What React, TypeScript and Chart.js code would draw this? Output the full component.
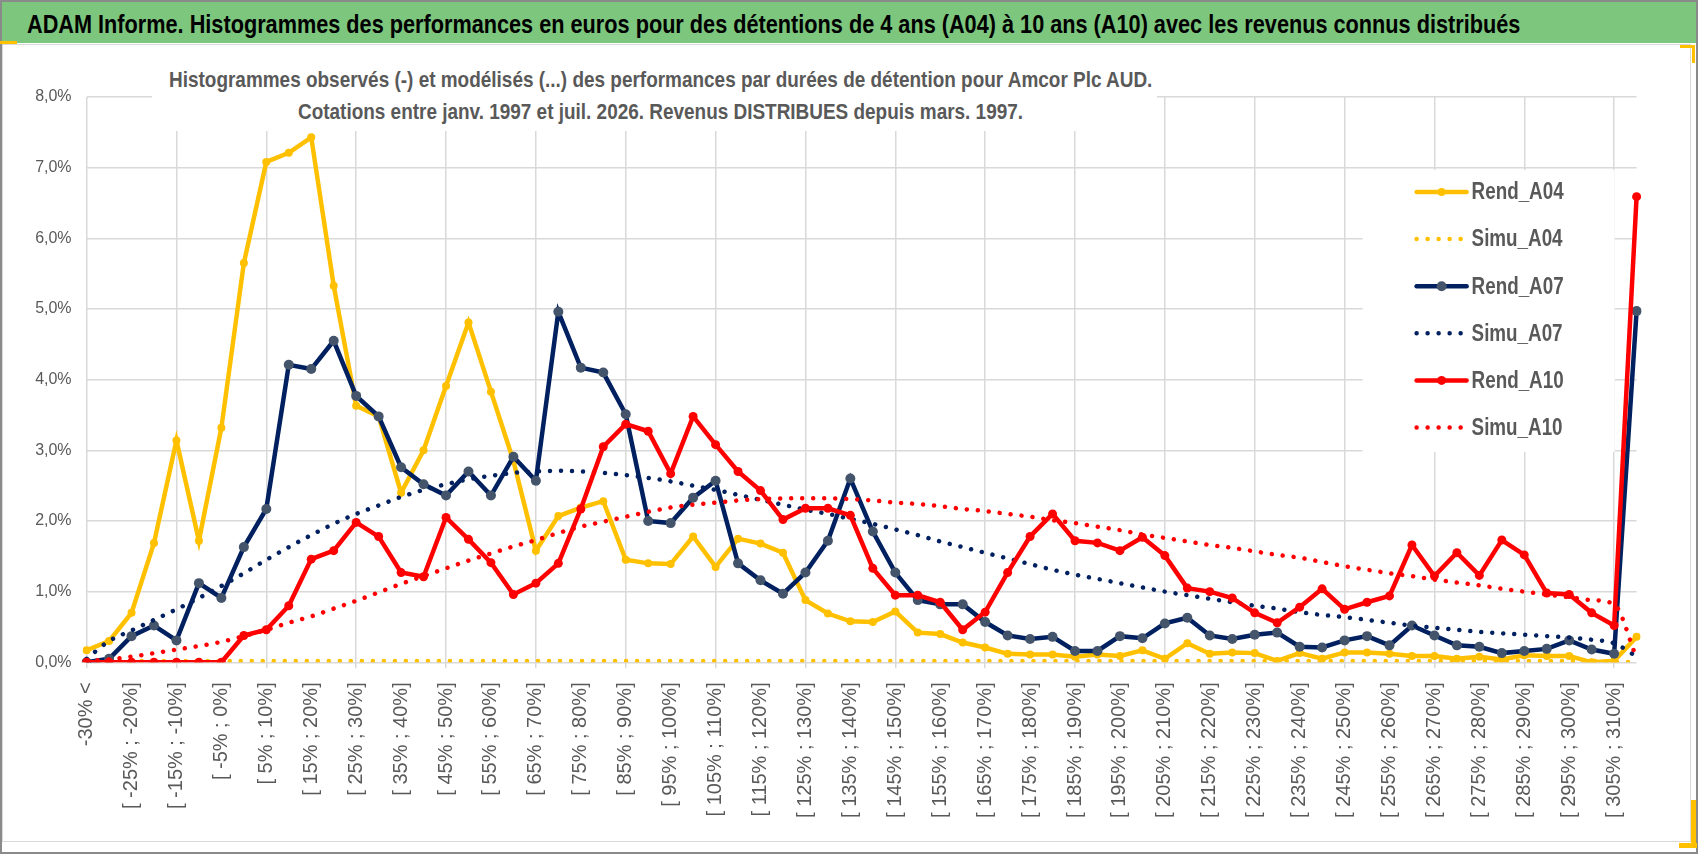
import { useEffect, useRef } from "react"
import { Chart, registerables } from "chart.js"

Chart.register(...registerables)

const categories = [
  "-30% <", "[ -30% ; -25%]", "[ -25% ; -20%]", "[ -20% ; -15%]", "[ -15% ; -10%]",
  "[ -10% ; -5%]", "[ -5% ; 0%]", "[ 0% ; 5%]", "[ 5% ; 10%]", "[ 10% ; 15%]",
  "[ 15% ; 20%]", "[ 20% ; 25%]", "[ 25% ; 30%]", "[ 30% ; 35%]", "[ 35% ; 40%]",
  "[ 40% ; 45%]", "[ 45% ; 50%]", "[ 50% ; 55%]", "[ 55% ; 60%]", "[ 60% ; 65%]",
  "[ 65% ; 70%]", "[ 70% ; 75%]", "[ 75% ; 80%]", "[ 80% ; 85%]", "[ 85% ; 90%]",
  "[ 90% ; 95%]", "[ 95% ; 100%]", "[ 100% ; 105%]", "[ 105% ; 110%]", "[ 110% ; 115%]",
  "[ 115% ; 120%]", "[ 120% ; 125%]", "[ 125% ; 130%]", "[ 130% ; 135%]", "[ 135% ; 140%]",
  "[ 140% ; 145%]", "[ 145% ; 150%]", "[ 150% ; 155%]", "[ 155% ; 160%]", "[ 160% ; 165%]",
  "[ 165% ; 170%]", "[ 170% ; 175%]", "[ 175% ; 180%]", "[ 180% ; 185%]", "[ 185% ; 190%]",
  "[ 190% ; 195%]", "[ 195% ; 200%]", "[ 200% ; 205%]", "[ 205% ; 210%]", "[ 210% ; 215%]",
  "[ 215% ; 220%]", "[ 220% ; 225%]", "[ 225% ; 230%]", "[ 230% ; 235%]", "[ 235% ; 240%]",
  "[ 240% ; 245%]", "[ 245% ; 250%]", "[ 250% ; 255%]", "[ 255% ; 260%]", "[ 260% ; 265%]",
  "[ 265% ; 270%]", "[ 270% ; 275%]", "[ 275% ; 280%]", "[ 280% ; 285%]", "[ 285% ; 290%]",
  "[ 290% ; 295%]", "[ 295% ; 300%]", "[ 300% ; 305%]", "[ 305% ; 310%]", "> 310%",
]

// observed histograms (%)
const rendA04 = [
  0.17, 0.3, 0.7, 1.69, 3.14, 1.72, 3.32, 5.65, 7.08, 7.21,
  7.43, 5.33, 3.63, 3.48, 2.4, 3.0, 3.91, 4.81, 3.83, 2.85,
  1.58, 2.07, 2.19, 2.28, 1.45, 1.4, 1.39, 1.78, 1.35, 1.75,
  1.68, 1.55, 0.88, 0.69, 0.58, 0.57, 0.72, 0.42, 0.4, 0.28,
  0.21, 0.12, 0.11, 0.11, 0.08, 0.11, 0.09, 0.17, 0.05, 0.27,
  0.12, 0.14, 0.13, 0.02, 0.13, 0.05, 0.14, 0.14, 0.12, 0.09,
  0.09, 0.05, 0.08, 0.04, 0.1, 0.09, 0.09, 0.0, 0.02, 0.36,
]
const rendA07 = [
  0.0, 0.05, 0.37, 0.52, 0.31, 1.12, 0.91, 1.63, 2.17, 4.21,
  4.15, 4.55, 3.77, 3.48, 2.76, 2.52, 2.36, 2.7, 2.36, 2.91,
  2.57, 4.96, 4.17, 4.1, 3.51, 2.0, 1.97, 2.33, 2.57, 1.4,
  1.16, 0.97, 1.27, 1.72, 2.6, 1.85, 1.27, 0.88, 0.82, 0.82,
  0.57, 0.38, 0.33, 0.36, 0.16, 0.16, 0.37, 0.34, 0.55, 0.63,
  0.38, 0.33, 0.39, 0.42, 0.22, 0.21, 0.31, 0.37, 0.24, 0.52,
  0.38, 0.24, 0.22, 0.13, 0.16, 0.19, 0.31, 0.18, 0.12, 4.97,
]
const rendA10 = [
  0.0, 0.0, 0.0, 0.0, 0.0, 0.0, 0.0, 0.38, 0.46, 0.8,
  1.46, 1.58, 1.98, 1.78, 1.27, 1.21, 2.05, 1.74, 1.41, 0.96,
  1.12, 1.4, 2.17, 3.05, 3.37, 3.27, 2.67, 3.48, 3.08, 2.7,
  2.43, 2.02, 2.18, 2.18, 2.08, 1.33, 0.95, 0.95, 0.85, 0.46,
  0.71, 1.27, 1.78, 2.1, 1.72, 1.69, 1.58, 1.77, 1.51, 1.05,
  1.0, 0.91, 0.7, 0.56, 0.78, 1.04, 0.75, 0.85, 0.94, 1.66,
  1.22, 1.55, 1.23, 1.73, 1.52, 0.98, 0.96, 0.7, 0.52, 6.59,
]

// modelled histograms (%)
const simuA04 = [
  0.01, 0.01, 0.02, 0.02, 0.02, 0.02, 0.02, 0.02, 0.02, 0.02,
  0.02, 0.02, 0.02, 0.02, 0.02, 0.02, 0.02, 0.02, 0.02, 0.02,
  0.02, 0.02, 0.02, 0.02, 0.02, 0.02, 0.02, 0.02, 0.02, 0.02,
  0.02, 0.02, 0.02, 0.02, 0.02, 0.02, 0.02, 0.02, 0.02, 0.02,
  0.02, 0.02, 0.02, 0.02, 0.02, 0.02, 0.02, 0.02, 0.02, 0.02,
  0.02, 0.02, 0.02, 0.02, 0.02, 0.02, 0.02, 0.02, 0.02, 0.02,
  0.02, 0.02, 0.02, 0.02, 0.02, 0.02, 0.02, 0.02, 0.01, 0.0,
]
const simuA07 = [
  0.05, 0.3, 0.45, 0.6, 0.75, 0.91, 1.08, 1.26, 1.45, 1.63,
  1.8, 1.96, 2.1, 2.22, 2.34, 2.44, 2.52, 2.59, 2.64, 2.68,
  2.7, 2.71, 2.7, 2.68, 2.65, 2.61, 2.56, 2.5, 2.44, 2.37,
  2.3, 2.23, 2.16, 2.1, 2.03, 1.96, 1.88, 1.8, 1.71, 1.63,
  1.55, 1.47, 1.39, 1.31, 1.24, 1.18, 1.12, 1.06, 1.0, 0.95,
  0.9, 0.85, 0.8, 0.76, 0.71, 0.67, 0.64, 0.6, 0.56, 0.52,
  0.49, 0.46, 0.43, 0.41, 0.39, 0.37, 0.35, 0.32, 0.27, 0.08,
]
const simuA10 = [
  0.02, 0.04, 0.08, 0.13, 0.18, 0.23, 0.29, 0.37, 0.46, 0.56,
  0.65, 0.76, 0.87, 0.99, 1.11, 1.22, 1.33, 1.44, 1.54, 1.64,
  1.73, 1.83, 1.92, 1.99, 2.06, 2.13, 2.19, 2.23, 2.26, 2.29,
  2.31, 2.32, 2.32, 2.32, 2.31, 2.29, 2.26, 2.24, 2.21, 2.17,
  2.14, 2.1, 2.06, 2.01, 1.97, 1.92, 1.87, 1.81, 1.76, 1.71,
  1.66, 1.62, 1.57, 1.52, 1.48, 1.42, 1.36, 1.31, 1.26, 1.22,
  1.17, 1.13, 1.09, 1.04, 1.0, 0.96, 0.92, 0.88, 0.82, 0.06,
]

const YELLOW = "#FFC000"
const NAVY = "#002060"
const SLATE = "#44546A"
const RED = "#FF0000"
const GRID = "#D9D9D9"
const TEXT = "#595959"
const SANS = "'Liberation Sans', Arial, sans-serif"

const DOTS = [0.01, 11]

// Calibri-like look: Liberation Sans squeezed horizontally
const LEGEND_TEXT_W = 92

const boxLegend = {
  id: "boxLegend",
  afterDraw(chart: any) {
    const { ctx, chartArea } = chart
    const left = chartArea.right - 274
    const top = chartArea.top + 73
    ctx.save()
    ctx.fillStyle = "#ffffff"
    ctx.fillRect(left, top, 252, 282)
    ctx.font = `bold 23px ${SANS}`
    const squeeze = LEGEND_TEXT_W / ctx.measureText("Rend_A04").width
    chart.data.datasets.forEach((ds: any, i: number) => {
      const y = top + 22 + i * 47.1
      const x0 = left + 54
      const x1 = left + 104
      ctx.beginPath()
      ctx.strokeStyle = ds.borderColor
      ctx.lineWidth = ds.borderWidth
      ctx.lineCap = "round"
      ctx.setLineDash(ds.borderDash || [])
      ctx.moveTo(x0, y)
      ctx.lineTo(x1, y)
      ctx.stroke()
      ctx.setLineDash([])
      if (ds.pointRadius > 0) {
        ctx.beginPath()
        ctx.fillStyle = ds.pointBackgroundColor
        ctx.arc((x0 + x1) / 2, y, ds.pointRadius, 0, Math.PI * 2)
        ctx.fill()
      }
      ctx.save()
      ctx.translate(left + 109, y + 1)
      ctx.scale(squeeze, 1)
      ctx.fillStyle = TEXT
      ctx.textBaseline = "middle"
      ctx.textAlign = "left"
      ctx.fillText(ds.label, 0, 0)
      ctx.restore()
    })
    ctx.restore()
  },
}

const fitWidth = (el: HTMLElement | null, target: number) => {
  if (!el) return
  el.style.transform = "none"
  const w = el.offsetWidth
  if (w > 0) el.style.transform = `scaleX(${target / w})`
}

const App = () => {
  const chartRef = useRef<HTMLCanvasElement | null>(null)
  const chartInstance = useRef<Chart | null>(null)
  const bannerRef = useRef<HTMLSpanElement | null>(null)
  const line1Ref = useRef<HTMLSpanElement | null>(null)
  const line2Ref = useRef<HTMLSpanElement | null>(null)

  useEffect(() => {
    document.body.style.margin = "0"
    fitWidth(bannerRef.current, 1493)
    fitWidth(line1Ref.current, 983)
    fitWidth(line2Ref.current, 725)

    if (!chartRef.current) return
    const ctx = chartRef.current.getContext("2d")
    if (!ctx) return
    if (chartInstance.current) chartInstance.current.destroy()

    const observed = (label: string, data: number[], color: string, marker: string, r: number, order: number) => ({
      label,
      data,
      borderColor: color,
      backgroundColor: color,
      borderWidth: 4.5,
      pointRadius: r,
      pointBackgroundColor: marker,
      pointBorderWidth: 0,
      tension: 0,
      order,
    })
    const modelled = (label: string, data: number[], color: string, order: number) => ({
      label,
      data,
      borderColor: color,
      backgroundColor: color,
      borderWidth: 4.5,
      borderDash: DOTS,
      borderCapStyle: "round",
      pointRadius: 0,
      cubicInterpolationMode: "monotone",
      order,
    })

    chartInstance.current = new Chart(ctx, {
      type: "line",
      data: {
        labels: categories,
        datasets: [
          observed("Rend_A04", rendA04, YELLOW, YELLOW, 4, 6),
          modelled("Simu_A04", simuA04, YELLOW, 5),
          observed("Rend_A07", rendA07, NAVY, SLATE, 5, 4),
          modelled("Simu_A07", simuA07, NAVY, 3),
          observed("Rend_A10", rendA10, RED, RED, 4.5, 2),
          modelled("Simu_A10", simuA10, RED, 1),
        ] as any,
      },
      options: {
        responsive: false,
        animation: false,
        layout: { padding: { top: 97, right: 61.4, left: 0, bottom: 0 } },
        plugins: {
          legend: { display: false },
          tooltip: { enabled: false },
        },
        scales: {
          x: {
            grid: {
              color: (c: any) => (c.index % 4 === 0 ? GRID : "rgba(0,0,0,0)"),
              lineWidth: 1.5,
              tickLength: 6,
            },
            border: { display: false },
            ticks: {
              autoSkip: false,
              minRotation: 90,
              maxRotation: 90,
              padding: 14,
              color: TEXT,
              font: { family: SANS, size: 20 },
              callback: (_v: any, i: number) => (i % 2 === 0 ? categories[i] : ""),
            },
            afterFit: (s: any) => {
              s.height = 191.7
            },
          },
          y: {
            min: 0,
            max: 8,
            grid: { color: GRID, lineWidth: 1.5, drawTicks: false },
            border: { display: false },
            ticks: {
              stepSize: 1,
              padding: 15,
              color: TEXT,
              font: { family: SANS, size: 16 },
              callback: (v: any) => Number(v).toFixed(1).replace(".", ",") + "%",
            },
            afterFit: (s: any) => {
              s.width = 86.6
            },
          },
        },
      },
      plugins: [boxLegend],
    })

    return () => {
      if (chartInstance.current) {
        chartInstance.current.destroy()
        chartInstance.current = null
      }
    }
  }, [])

  const titleLine = {
    position: "absolute" as const,
    whiteSpace: "nowrap" as const,
    transformOrigin: "left center",
    fontFamily: SANS,
    fontWeight: "bold" as const,
    fontSize: 22,
    lineHeight: "32px",
    color: TEXT,
  }

  return (
    <div style={{ position: "relative", width: 1698, height: 854, overflow: "hidden", background: "#fff" }}>
      <canvas ref={chartRef} width={1698} height={854} style={{ position: "absolute", left: 0, top: 0 }} />
      {/* banner */}
      <div style={{ position: "absolute", left: 0, top: 0, width: 1698, height: 43, background: "#7DC67E" }}>
        <span
          ref={bannerRef}
          style={{
            position: "absolute", left: 27, top: 9, lineHeight: "30px", whiteSpace: "nowrap",
            transformOrigin: "left center",
            fontFamily: SANS, fontWeight: "bold", fontSize: 25, color: "#000",
          }}
        >
          ADAM Informe. Histogrammes des performances en euros pour des détentions de 4 ans (A04) à 10 ans (A10) avec les revenus connus distribués
        </span>
      </div>
      {/* chart title on a white box */}
      <div style={{ position: "absolute", left: 152, top: 60, width: 1005, height: 71, background: "#fff" }} />
      <span ref={line1Ref} style={{ ...titleLine, left: 660 - 983 / 2, top: 64 }}>
        Histogrammes observés (-) et modélisés (...) des performances par durées de détention pour Amcor Plc AUD.
      </span>
      <span ref={line2Ref} style={{ ...titleLine, left: 660 - 725 / 2, top: 96 }}>
        Cotations entre janv. 1997 et juil. 2026. Revenus DISTRIBUES depuis mars. 1997.
      </span>
      {/* frames */}
      <div style={{ position: "absolute", left: 2, top: 44, width: 1689, height: 798, border: "1.5px solid #D9D9D9", boxSizing: "border-box" }} />
      <div style={{ position: "absolute", left: 0, top: 0, width: 1698, height: 854, border: "2px solid #8A8A8A", boxSizing: "border-box" }} />
      {/* yellow handles */}
      <div style={{ position: "absolute", left: 0, top: 41, width: 17, height: 3, background: YELLOW }} />
      <div style={{ position: "absolute", left: 1680, top: 45, width: 15, height: 3, background: YELLOW }} />
      <div style={{ position: "absolute", left: 1692, top: 45, width: 3, height: 18, background: YELLOW }} />
      <div style={{ position: "absolute", left: 1691, top: 800, width: 5, height: 48, background: YELLOW }} />
      <div style={{ position: "absolute", left: 1679, top: 843, width: 18, height: 5, background: YELLOW }} />
    </div>
  )
}

export default App
